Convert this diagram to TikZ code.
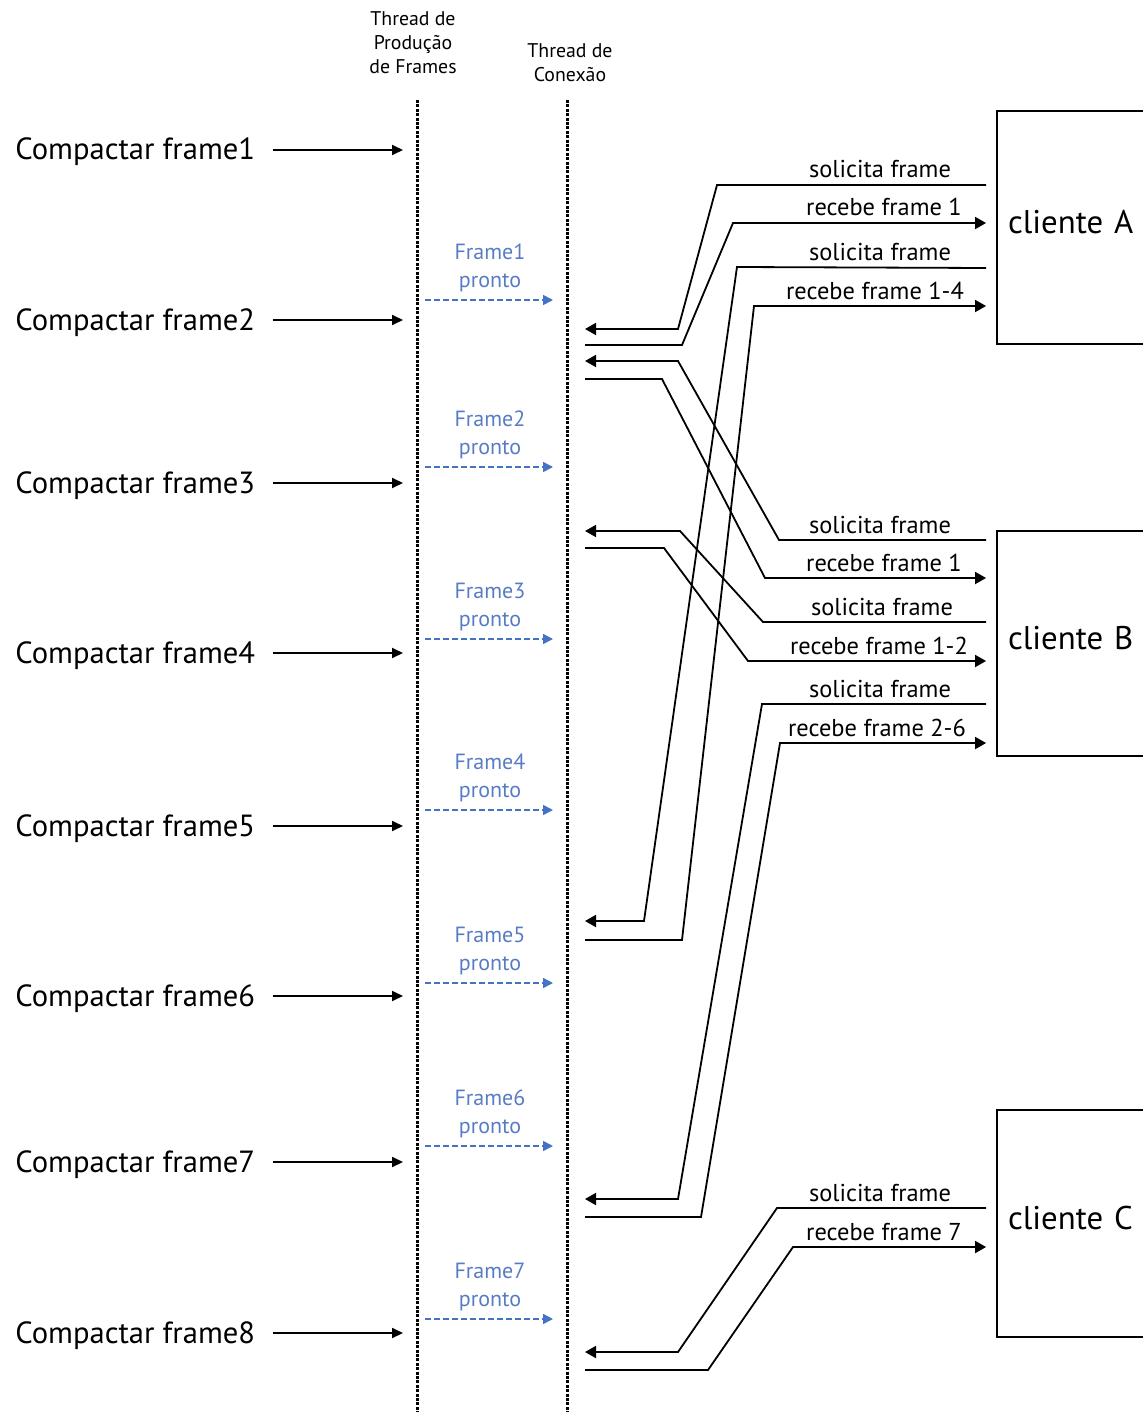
\documentclass[tikz,border=0pt]{standalone}
\usepackage{fontspec}
\setmainfont{PT Sans}
\usetikzlibrary{arrows.meta}
\definecolor{rdyblue}{RGB}{68,114,196}
\definecolor{rdytext}{RGB}{88,124,196}
\begin{document}
\begin{tikzpicture}[x=0.5pt,y=-0.5pt,
  msg/.style={line width=0.9pt, line join=miter},
  tipmsg/.style={msg, -{Triangle[length=5.5pt,width=6pt]}},
  work/.style={line width=0.9pt, -{Triangle[length=5.5pt,width=5pt]}},
  ready/.style={rdyblue, line width=0.8pt, dash pattern=on 3pt off 1.5pt, -{Triangle[length=5pt,width=5pt]}},
  threadline/.style={line width=1.5pt, dash pattern=on 1.5pt off 0.7pt},
  worklbl/.style={inner sep=0pt, font=\fontsize{15.3}{17}\selectfont, anchor=base west},
  msglbl/.style={inner sep=0pt, font=\fontsize{12.2}{14}\selectfont, anchor=base},
  readylbl/.style={inner sep=0pt, font=\fontsize{11}{14}\selectfont, text=rdytext, align=center, anchor=base},
  hdr/.style={inner sep=0pt, font=\fontsize{9.9}{12}\selectfont, align=center, anchor=base},
  clientbox/.style={draw, line width=0.9pt, minimum width=81.5pt, text width=70.5pt, inner sep=5.5pt, align=left, font=\fontsize{16.4}{18}\selectfont, text depth=6pt},
]
\useasboundingbox (0,0) rectangle (1142,1412);

% headers (base anchor = baseline of last line)
\node[hdr] (hProd) at (413,74) {Thread de\\Produção\\de Frames};
\node[hdr] (hCon) at (570,82) {Thread de\\Conexão};

% thread lines
\coordinate (prodTop) at (417,100);
\coordinate (prodBot) at (417,1412);
\coordinate (conTop) at (567,100);
\coordinate (conBot) at (567,1412);
\draw[threadline] (prodTop) -- (prodBot);
\draw[threadline] (conTop) -- (conBot);

% reference x positions
\coordinate (workEnd) at (403,0);
\coordinate (rdyStart) at (425,0);
\coordinate (rdyEnd) at (553,0);
\coordinate (conL) at (585,0);

% compactar labels and arrows
\foreach \i/\y in {1/150,2/320,3/483,4/653,5/826,6/996,7/1162,8/1333}{
  \node[worklbl] (c\i) at (15,\y+10) {Compactar frame\i};
  \draw[work] (c\i.east |- 0,\y) ++(8.5pt,0) -- (workEnd |- 0,\y);
}

% frame ready labels and arrows
\foreach \i/\y in {1/300,2/467,3/639,4/810,5/983,6/1146,7/1319}{
  \node[readylbl] (f\i) at (490,\y-13) {Frame\i\\pronto};
  \draw[ready] (rdyStart |- 0,\y) -- (rdyEnd |- 0,\y);
}

% clients
\node[clientbox, minimum height=116.5pt] (boxA) at (1078.5,227.5) {cliente A};
\node[clientbox, minimum height=112.5pt] (boxB) at (1078.5,643.5) {cliente B};
\node[clientbox, minimum height=113.5pt] (boxC) at (1078.5,1223.5) {cliente C};
\coordinate (Aw) at ([xshift=-5pt]boxA.west);
\coordinate (Bw) at ([xshift=-5pt]boxB.west);
\coordinate (Cw) at ([xshift=-5pt]boxC.west);

% client A messages
\draw[tipmsg] (Aw |- 0,185) -- (717,185) -- (678,329) -- (conL |- 0,329);
\draw[tipmsg] (conL |- 0,345) -- (682,345) -- (733,223) -- (Aw |- 0,223);
\draw[tipmsg] (Aw |- 0,268) -- (737,267) -- (644,921) -- (conL |- 0,921);
\draw[tipmsg] (conL |- 0,940) -- (682,940) -- (754,306) -- (Aw |- 0,306);
\node[msglbl] (lA1) at (880,178) {solicita frame};
\node[msglbl] (lA2) at (884,216) {recebe frame 1};
\node[msglbl] (lA3) at (880,261) {solicita frame};
\node[msglbl] (lA4) at (875,299) {recebe frame 1-4};

% client B messages
\draw[tipmsg] (Bw |- 0,540) -- (779,540) -- (678,361) -- (conL |- 0,361);
\draw[tipmsg] (conL |- 0,379) -- (662,379) -- (765,578) -- (Bw |- 0,578);
\draw[tipmsg] (Bw |- 0,622) -- (763,622) -- (680,531) -- (conL |- 0,531);
\draw[tipmsg] (conL |- 0,548) -- (664,548) -- (748,661) -- (Bw |- 0,661);
\draw[tipmsg] (Bw |- 0,704) -- (762,704) -- (678,1199) -- (conL |- 0,1199);
\draw[tipmsg] (conL |- 0,1217) -- (701,1217) -- (780,743) -- (Bw |- 0,743);
\node[msglbl] (lB1) at (880,533) {solicita frame};
\node[msglbl] (lB2) at (884,571) {recebe frame 1};
\node[msglbl] (lB3) at (882,615) {solicita frame};
\node[msglbl] (lB4) at (879,654) {recebe frame 1-2};
\node[msglbl] (lB5) at (880,697) {solicita frame};
\node[msglbl] (lB6) at (877,736) {recebe frame 2-6};

% client C messages
\draw[tipmsg] (Cw |- 0,1208) -- (777,1208) -- (678,1352) -- (conL |- 0,1352);
\draw[tipmsg] (conL |- 0,1370) -- (708,1370) -- (793,1247) -- (Cw |- 0,1247);
\node[msglbl] (lC1) at (880,1201) {solicita frame};
\node[msglbl] (lC2) at (884,1240) {recebe frame 7};
\end{tikzpicture}
\end{document}
